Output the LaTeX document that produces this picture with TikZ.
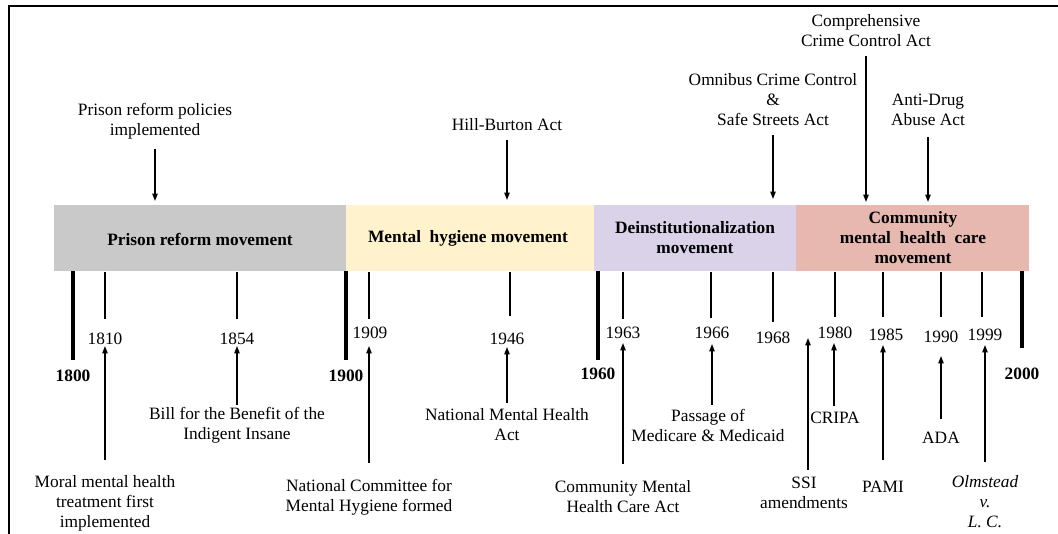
\documentclass[tikz,border=0pt]{standalone}
\usepackage{fontspec}
\setmainfont{Liberation Serif}
\usetikzlibrary{arrows.meta}
\definecolor{cgray}{HTML}{C9C9C9}
\definecolor{cyel}{HTML}{FFF2CC}
\definecolor{cpur}{HTML}{D9D2E9}
\definecolor{cpink}{HTML}{E6B8AF}
\begin{document}
\begin{tikzpicture}[x=0.75pt,y=-0.75pt,
  txt/.style={font=\fontsize{13}{15}\selectfont,align=center,inner sep=0pt},
  btxt/.style={font=\fontsize{13}{15}\selectfont\bfseries,align=center,inner sep=0pt},
  arr/.style={-{Triangle[length=5.5pt,width=4pt]},line width=0.9pt},
  thin/.style={line width=0.9pt},
  thick tick/.style={line width=3pt},
  band/.style={draw=none,inner sep=0pt}]
\useasboundingbox (0,0) rectangle (1058,534);
% frame
\coordinate (f0) at (9,6);
\coordinate (f1) at (1058,6);
\coordinate (f2) at (9,534);
\draw[line width=1.5pt] (f1) -- (f0) -- (f2);
% bands
\fill[cgray] (54,205) rectangle (346,271);
\fill[cyel] (346,205) rectangle (594,271);
\fill[cpur] (594,205) rectangle (796,271);
\fill[cpink] (796,205) rectangle (1029,271);
\node[btxt] (b1) at (200,239) {Prison reform movement};
\node[btxt] (b2) at (468,238) {Mental\ \ hygiene movement};
\node[btxt] (b3) at (695,238) {Deinstitutionalization\\movement};
\node[btxt] (b4) at (913,238) {Community\\mental\ \ health\ \ care\\movement};
% top events
\node[txt] (t1) at (155,121) {Prison reform policies\\implemented};
\coordinate (t1e) at (155,201);
\draw[arr] ([yshift=-0.75pt*10]t1.south) -- (t1e);
\node[txt] (t2) at (507,125) {Hill-Burton Act};
\coordinate (t2e) at (507,200);
\draw[arr] ([yshift=-0.75pt*9]t2.south) -- (t2e);
\node[txt] (t3) at (773,100) {Omnibus Crime Control\\\&\\Safe Streets Act};
\coordinate (t3e) at (773,199);
\draw[arr] ([yshift=-0.75pt*9]t3.south) -- (t3e);
\node[txt] (t4) at (866,31) {Comprehensive\\Crime Control Act};
\coordinate (t4e) at (866,202);
\draw[arr] ([yshift=-0.75pt*9]t4.south) -- (t4e);
\node[txt] (t5) at (928,110) {Anti-Drug\\Abuse Act};
\coordinate (t5e) at (928,202);
\draw[arr] ([yshift=-0.75pt*11]t5.south) -- (t5e);
% century ticks
\foreach \n/\x/\yb/\ly in {1800/73/360/376, 1900/346/360/376, 1960/598/360/374, 2000/1022/348/374}{
  \coordinate (c\n a) at (\x,271);
  \coordinate (c\n b) at (\x,\yb);
  \draw[thick tick] (c\n a) -- (c\n b);
  \node[btxt] (y\n) at (\x,\ly) {\n};
}
% year ticks and labels
\foreach \n/\x/\ye/\lx/\ly in {1810/105/319/105/339, 1854/237/319/237/339, 1909/369/319/370/333, 1946/510/316/507/339, 1963/623/319/623/333, 1966/711/318/712/333, 1968/773/322/773/338, 1980/835/317/835/333, 1985/883/317/886/335, 1990/941/317/941/337, 1999/982/317/985/335}{
  \coordinate (s\n a) at (\x,272);
  \coordinate (s\n b) at (\x,\ye);
  \draw[thin] (s\n a) -- (s\n b);
  \node[txt] (l\n) at (\lx,\ly) {\n};
}
% bottom events
\node[txt] (e1) at (105,503) {Moral mental health\\treatment first\\implemented};
\coordinate (e1s) at (105,460); \coordinate (e1e) at (105,346);
\draw[arr] (e1s) -- (e1e);
\node[txt] (e2) at (237,425) {Bill for the Benefit of the\\Indigent Insane};
\coordinate (e2s) at (237,405); \coordinate (e2e) at (237,346);
\draw[arr] (e2s) -- (e2e);
\node[txt] (e3) at (369,497) {National Committee for\\Mental Hygiene formed};
\coordinate (e3s) at (369,463); \coordinate (e3e) at (369,346);
\draw[arr] (e3s) -- (e3e);
\node[txt] (e4) at (507,425) {National Mental Health\\Act};
\coordinate (e4s) at (507,403); \coordinate (e4e) at (507,347);
\draw[arr] (e4s) -- (e4e);
\node[txt] (e5) at (623,497) {Community Mental\\Health Care Act};
\coordinate (e5s) at (623,464); \coordinate (e5e) at (623,343);
\draw[arr] (e5s) -- (e5e);
\node[txt] (e6) at (708,425) {Passage of\\Medicare \& Medicaid};
\coordinate (e6s) at (712,405); \coordinate (e6e) at (712,344);
\draw[arr] (e6s) -- (e6e);
\node[txt] (e7) at (804,493) {SSI\\amendments};
\coordinate (e7s) at (808,470); \coordinate (e7e) at (808,338);
\draw[arr] (e7s) -- (e7e);
\node[txt] (e8) at (835,418) {CRIPA};
\coordinate (e8s) at (834,406); \coordinate (e8e) at (834,343);
\draw[arr] (e8s) -- (e8e);
\node[txt] (e9) at (883,487) {PAMI};
\coordinate (e9s) at (883,460); \coordinate (e9e) at (883,345);
\draw[arr] (e9s) -- (e9e);
\node[txt] (e10) at (941,438) {ADA};
\coordinate (e10s) at (941,419); \coordinate (e10e) at (941,356);
\draw[arr] (e10s) -- (e10e);
\node[txt] (e11) at (985,502) {\itshape Olmstead\\\itshape v.\\\itshape L. C.};
\coordinate (e11s) at (985,462); \coordinate (e11e) at (985,345);
\draw[arr] (e11s) -- (e11e);
\end{tikzpicture}
\end{document}
